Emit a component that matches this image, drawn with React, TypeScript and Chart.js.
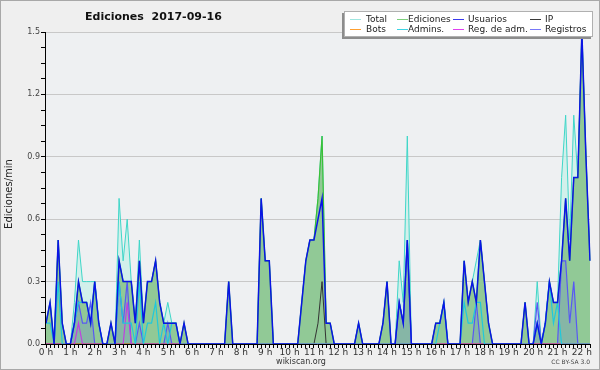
import React, { useEffect, useRef } from 'react';
import { Chart, registerables } from 'chart.js';

Chart.register(...registerables);

// 10-minute bins from 0:00 to 22:20
const TIME_LABELS: string[] = [];
for (let h = 0; h <= 22; h++) {
  for (let m = 0; m < 60; m += 10) {
    if (h === 22 && m > 20) break;
    TIME_LABELS.push(`${h}:${m === 0 ? '00' : m}`);
  }
}

const TITLE = 'Ediciones  2017-09-16';
const Y_TITLE = 'Ediciones/min';
const Y_MAX = 1.5;

// one row per hour (6 bins of 10 minutes), values in edits/min
const TOTAL = [
  0.1, 0.2, 0, 0.5, 0.1, 0,
  0, 0.2, 0.5, 0.3, 0.3, 0.3,
  0.3, 0.1, 0, 0, 0.1, 0,
  0.7, 0.4, 0.6, 0.3, 0.1, 0.5,
  0.1, 0.3, 0.3, 0.4, 0.2, 0.1,
  0.2, 0.1, 0.1, 0, 0.1, 0,
  0, 0, 0, 0, 0, 0,
  0, 0, 0, 0.3, 0, 0,
  0, 0, 0, 0, 0, 0.7,
  0.4, 0.4, 0, 0, 0, 0,
  0, 0, 0, 0.2, 0.4, 0.5,
  0.5, 0.7, 1.0, 0.1, 0.1, 0,
  0, 0, 0, 0, 0, 0.1,
  0, 0, 0, 0, 0, 0.1,
  0.3, 0, 0, 0.4, 0.2, 1.0,
  0, 0, 0, 0, 0, 0,
  0.1, 0.1, 0.2, 0, 0, 0,
  0, 0.4, 0.2, 0.3, 0.4, 0.5,
  0.3, 0.1, 0, 0, 0, 0,
  0, 0, 0, 0, 0.2, 0,
  0, 0.3, 0, 0.1, 0.3, 0.2,
  0.2, 0.8, 1.1, 0.5, 1.1, 0.8,
  1.5, 0.9, 0.4,
];

const EDICIONES = [
  0.1, 0.2, 0, 0.5, 0.1, 0,
  0, 0.1, 0.3, 0.2, 0.2, 0.1,
  0.3, 0.1, 0, 0, 0.1, 0,
  0.4, 0.3, 0.3, 0.3, 0.1, 0.4,
  0.1, 0.3, 0.3, 0.4, 0.2, 0.1,
  0.1, 0.1, 0.1, 0, 0.1, 0,
  0, 0, 0, 0, 0, 0,
  0, 0, 0, 0.3, 0, 0,
  0, 0, 0, 0, 0, 0.7,
  0.4, 0.4, 0, 0, 0, 0,
  0, 0, 0, 0.2, 0.4, 0.5,
  0.5, 0.7, 1.0, 0.1, 0.1, 0,
  0, 0, 0, 0, 0, 0.1,
  0, 0, 0, 0, 0, 0.1,
  0.3, 0, 0, 0.2, 0.1, 0.5,
  0, 0, 0, 0, 0, 0,
  0.1, 0.1, 0.2, 0, 0, 0,
  0, 0.4, 0.2, 0.3, 0.2, 0.5,
  0.3, 0.1, 0, 0, 0, 0,
  0, 0, 0, 0, 0.2, 0,
  0, 0.1, 0, 0.1, 0.3, 0.2,
  0.2, 0.4, 0.7, 0.4, 0.8, 0.8,
  1.5, 0.9, 0.4,
];

const USUARIOS = [
  0.1, 0.2, 0, 0.5, 0.1, 0,
  0, 0.1, 0.3, 0.2, 0.2, 0.1,
  0.3, 0.1, 0, 0, 0.1, 0,
  0.4, 0.3, 0.3, 0.3, 0.1, 0.4,
  0.1, 0.3, 0.3, 0.4, 0.2, 0.1,
  0.1, 0.1, 0.1, 0, 0.1, 0,
  0, 0, 0, 0, 0, 0,
  0, 0, 0, 0.3, 0, 0,
  0, 0, 0, 0, 0, 0.7,
  0.4, 0.4, 0, 0, 0, 0,
  0, 0, 0, 0.2, 0.4, 0.5,
  0.5, 0.6, 0.7, 0.1, 0.1, 0,
  0, 0, 0, 0, 0, 0.1,
  0, 0, 0, 0, 0, 0.1,
  0.3, 0, 0, 0.2, 0.1, 0.5,
  0, 0, 0, 0, 0, 0,
  0.1, 0.1, 0.2, 0, 0, 0,
  0, 0.4, 0.2, 0.3, 0.2, 0.5,
  0.3, 0.1, 0, 0, 0, 0,
  0, 0, 0, 0, 0.2, 0,
  0, 0.1, 0, 0.1, 0.3, 0.2,
  0.2, 0.4, 0.7, 0.4, 0.8, 0.8,
  1.5, 0.9, 0.4,
];

const IP = [
  0, 0, 0, 0, 0, 0,
  0, 0, 0, 0, 0, 0,
  0, 0, 0, 0, 0, 0,
  0, 0, 0, 0, 0, 0,
  0, 0, 0, 0, 0, 0,
  0, 0, 0, 0, 0, 0,
  0, 0, 0, 0, 0, 0,
  0, 0, 0, 0, 0, 0,
  0, 0, 0, 0, 0, 0,
  0, 0, 0, 0, 0, 0,
  0, 0, 0, 0, 0, 0,
  0, 0.1, 0.3, 0, 0, 0,
  0, 0, 0, 0, 0, 0,
  0, 0, 0, 0, 0, 0,
  0, 0, 0, 0, 0, 0,
  0, 0, 0, 0, 0, 0,
  0, 0, 0, 0, 0, 0,
  0, 0, 0, 0, 0, 0,
  0, 0, 0, 0, 0, 0,
  0, 0, 0, 0, 0, 0,
  0, 0, 0, 0, 0, 0,
  0, 0, 0, 0, 0, 0,
  0, 0, 0,
];

const BOTS = [
  0, 0, 0, 0, 0, 0,
  0, 0, 0, 0, 0, 0,
  0, 0, 0, 0, 0, 0,
  0, 0, 0, 0, 0, 0,
  0, 0, 0, 0, 0, 0,
  0, 0, 0, 0, 0, 0,
  0, 0, 0, 0, 0, 0,
  0, 0, 0, 0, 0, 0,
  0, 0, 0, 0, 0, 0,
  0, 0, 0, 0, 0, 0,
  0, 0, 0, 0, 0, 0,
  0, 0, 0, 0, 0, 0,
  0, 0, 0, 0, 0, 0,
  0, 0, 0, 0, 0, 0,
  0, 0, 0, 0, 0, 0,
  0, 0, 0, 0, 0, 0,
  0, 0, 0, 0, 0, 0,
  0, 0, 0, 0, 0, 0,
  0, 0, 0, 0, 0, 0,
  0, 0, 0, 0, 0, 0,
  0, 0, 0, 0, 0, 0,
  0, 0, 0, 0, 0, 0,
  0, 0, 0,
];

const ADMINS = [
  0.1, 0.1, 0, 0.3, 0, 0,
  0, 0.1, 0.2, 0.2, 0.2, 0.1,
  0.3, 0.1, 0, 0, 0, 0,
  0.3, 0.1, 0.1, 0.1, 0, 0.3,
  0, 0.1, 0.1, 0.2, 0, 0.1,
  0, 0.1, 0.1, 0, 0, 0,
  0, 0, 0, 0, 0, 0,
  0, 0, 0, 0, 0, 0,
  0, 0, 0, 0, 0, 0,
  0, 0, 0, 0, 0, 0,
  0, 0, 0, 0, 0, 0,
  0, 0, 0, 0, 0, 0,
  0, 0, 0, 0, 0, 0,
  0, 0, 0, 0, 0, 0,
  0, 0, 0, 0, 0, 0,
  0, 0, 0, 0, 0, 0,
  0, 0.1, 0.2, 0, 0, 0,
  0, 0.2, 0.1, 0.1, 0.2, 0.2,
  0, 0, 0, 0, 0, 0,
  0, 0, 0, 0, 0, 0,
  0, 0.1, 0, 0.1, 0.3, 0.1,
  0.2, 0, 0, 0, 0, 0,
  0, 0, 0,
];

const REG_ADM = [
  0, 0, 0, 0, 0, 0,
  0, 0, 0.1, 0, 0, 0,
  0, 0, 0, 0, 0, 0,
  0, 0, 0.2, 0, 0, 0,
  0, 0, 0, 0, 0, 0,
  0, 0, 0, 0, 0, 0,
  0, 0, 0, 0, 0, 0,
  0, 0, 0, 0, 0, 0,
  0, 0, 0, 0, 0, 0,
  0, 0, 0, 0, 0, 0,
  0, 0, 0, 0, 0, 0,
  0, 0, 0, 0, 0, 0,
  0, 0, 0, 0, 0, 0,
  0, 0, 0, 0, 0, 0,
  0, 0, 0, 0, 0, 0,
  0, 0, 0, 0, 0, 0,
  0, 0, 0, 0, 0, 0,
  0, 0, 0, 0, 0, 0,
  0, 0, 0, 0, 0, 0,
  0, 0, 0, 0, 0, 0,
  0, 0, 0, 0, 0, 0,
  0, 0, 0, 0, 0, 0,
  0, 0, 0,
];

const REGISTROS = [
  0, 0, 0, 0, 0, 0,
  0, 0.1, 0.2, 0.1, 0.1, 0.2,
  0, 0, 0, 0, 0, 0,
  0.3, 0.1, 0.3, 0, 0, 0.1,
  0, 0, 0, 0, 0, 0,
  0.1, 0, 0, 0, 0, 0,
  0, 0, 0, 0, 0, 0,
  0, 0, 0, 0, 0, 0,
  0, 0, 0, 0, 0, 0,
  0, 0, 0, 0, 0, 0,
  0, 0, 0, 0, 0, 0,
  0, 0, 0, 0, 0, 0,
  0, 0, 0, 0, 0, 0,
  0, 0, 0, 0, 0, 0,
  0, 0, 0, 0.2, 0.1, 0.5,
  0, 0, 0, 0, 0, 0,
  0, 0, 0, 0, 0, 0,
  0, 0, 0, 0, 0.2, 0,
  0, 0, 0, 0, 0, 0,
  0, 0, 0, 0, 0, 0,
  0, 0.2, 0, 0, 0, 0,
  0, 0.4, 0.4, 0.1, 0.3, 0,
  0, 0, 0,
];

const LEGEND_ITEMS = [
  { label: 'Total', color: '#9fe6e0', lx: 350, tx: 366, row: 0 },
  { label: 'Ediciones', color: '#7ccf7c', lx: 397, tx: 408, row: 0 },
  { label: 'Usuarios', color: '#3a3aee', lx: 453, tx: 468, row: 0 },
  { label: 'IP', color: '#3a3a3a', lx: 530, tx: 545, row: 0 },
  { label: 'Bots', color: '#ffa030', lx: 350, tx: 366, row: 1 },
  { label: 'Admins.', color: '#3cd4e4', lx: 397, tx: 408, row: 1 },
  { label: 'Reg. de adm.', color: '#e040f0', lx: 453, tx: 468, row: 1 },
  { label: 'Registros', color: '#7878f8', lx: 530, tx: 545, row: 1 },
];

const FONT = '"DejaVu Sans", sans-serif';

const decorPlugin = {
  id: 'decor',
  beforeDraw(chart: any) {
    const { ctx, chartArea: a, width, height } = chart;
    ctx.save();
    ctx.fillStyle = '#efefef';
    ctx.fillRect(0, 0, width, height);
    ctx.fillStyle = '#eef0f2';
    ctx.fillRect(a.left, a.top, a.right - a.left, a.bottom - a.top);
    ctx.strokeStyle = '#a8a8a8';
    ctx.lineWidth = 1;
    ctx.strokeRect(0.5, 0.5, width - 1, height - 1);
    ctx.restore();
  },
  afterDatasetsDraw(chart: any) {
    const { ctx, chartArea: a } = chart;
    ctx.save();
    ctx.strokeStyle = '#000';
    ctx.lineWidth = 1;
    ctx.beginPath();
    const lx = Math.round(a.left) - 0.5;
    const by = Math.round(a.bottom) + 0.5;
    ctx.moveTo(lx, a.top);
    ctx.lineTo(lx, by);
    ctx.lineTo(a.right, by);
    ctx.stroke();
    ctx.restore();
  },
  afterDraw(chart: any) {
    const { ctx } = chart;
    ctx.save();
    // title
    ctx.fillStyle = '#111';
    ctx.font = `bold 11px ${FONT}`;
    ctx.textAlign = 'left';
    ctx.textBaseline = 'middle';
    ctx.fillText(TITLE, 85, 17);
    // y title
    ctx.save();
    ctx.translate(9, 194);
    ctx.rotate(-Math.PI / 2);
    ctx.font = `10px ${FONT}`;
    ctx.fillStyle = '#222';
    ctx.textAlign = 'center';
    ctx.fillText(Y_TITLE, 0, 0);
    ctx.restore();
    // footer
    ctx.font = `8px ${FONT}`;
    ctx.fillStyle = '#333';
    ctx.textAlign = 'center';
    ctx.fillText('wikiscan.org', 301, 362);
    ctx.font = `6px ${FONT}`;
    ctx.fillStyle = '#444';
    ctx.textAlign = 'right';
    ctx.fillText('CC BY-SA 3.0', 590, 362);
    // legend
    ctx.fillStyle = '#8c8c8c';
    ctx.fillRect(342, 13, 249, 26);
    ctx.fillStyle = '#ffffff';
    ctx.fillRect(344, 11, 249, 26);
    ctx.strokeStyle = '#b0b0b0';
    ctx.strokeRect(344.5, 11.5, 248, 25);
    ctx.font = `9px ${FONT}`;
    ctx.textAlign = 'left';
    for (const it of LEGEND_ITEMS) {
      const y = it.row === 0 ? 19.5 : 29.5;
      ctx.strokeStyle = it.color;
      ctx.lineWidth = 1;
      ctx.beginPath();
      ctx.moveTo(it.lx, y);
      ctx.lineTo(it.lx + 11, y);
      ctx.stroke();
      ctx.fillStyle = '#222';
      ctx.fillText(it.label, it.tx, y);
    }
    ctx.restore();
  },
};

function line(label: string, data: number[], color: string, width: number, order: number, extra: any = {}) {
  return {
    label,
    data,
    borderColor: color,
    borderWidth: width,
    pointRadius: 0,
    tension: 0,
    fill: false,
    order,
    ...extra,
  };
}

export default function App() {
  const ref = useRef<HTMLCanvasElement | null>(null);
  useEffect(() => {
    document.body.style.margin = '0';
    const canvas = ref.current!;
    const chart = new Chart(canvas, {
      type: 'line',
      data: {
        labels: TIME_LABELS,
        datasets: [
          line('Total', TOTAL, '#3fd6c8', 1, 10, { fill: 'origin', backgroundColor: 'rgba(200,240,232,0.75)' }),
          line('Ediciones', EDICIONES, '#38c038', 1.2, 9, { fill: 'origin', backgroundColor: '#91c996' }),
          line('Registros', REGISTROS, '#5858f4', 1.2, 8, { fill: 'origin', backgroundColor: 'rgba(90,110,230,0.2)' }),
          line('IP', IP, '#333333', 1, 7),
          line('Bots', BOTS, '#ffa030', 1, 6),
          line('Reg. de adm.', REG_ADM, '#c040e0', 1.2, 5),
          line('Admins.', ADMINS, '#20c8dc', 1.2, 4),
          line('Usuarios', USUARIOS, '#0a14e6', 1.5, 1),
        ],
      },
      options: {
        animation: false,
        responsive: false,
        devicePixelRatio: 1,
        layout: { padding: { left: 0, top: 32, right: 10, bottom: 0 } },
        plugins: { legend: { display: false }, tooltip: { enabled: false }, title: { display: false } },
        scales: {
          x: {
            type: 'category',
            offset: false,
            border: { display: false },
            grid: { drawOnChartArea: false, drawTicks: true, tickLength: 4, tickColor: '#000', color: '#000' },
            ticks: {
              autoSkip: false,
              maxRotation: 0,
              minRotation: 0,
              padding: -1,
              color: '#333',
              font: { family: FONT, size: 9 },
              callback: (_v: any, i: number) => (i % 6 === 0 ? `${i / 6} h` : ''),
            },
            afterFit: (s: any) => { s.height = 26; },
          },
          y: {
            min: 0,
            max: Y_MAX,
            border: { display: false },
            grid: {
              drawOnChartArea: true,
              tickLength: 5,
              tickColor: '#000',
              color: (c: any) => (c.index % 4 === 0 && c.index > 0 ? '#c8c8c8' : 'rgba(0,0,0,0)'),
            },
            ticks: {
              stepSize: 0.075,
              maxTicksLimit: 100,
              autoSkip: false,
              padding: 1,
              color: '#444',
              font: { family: FONT, size: 8 },
              callback: (v: any, i: number) => (i % 4 === 0 ? Number(v).toFixed(1) : ''),
            },
            afterFit: (s: any) => { s.width = 46; },
          },
        },
      },
      plugins: [decorPlugin],
    } as any);
    return () => chart.destroy();
  }, []);
  return <canvas ref={ref} width={600} height={370} style={{ display: 'block' }} />;
}
